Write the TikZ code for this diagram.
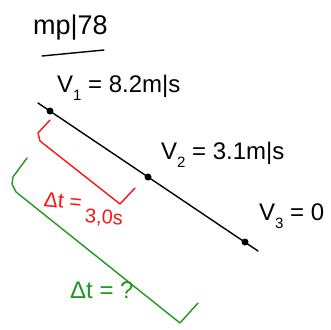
\documentclass[tikz,border=0pt]{standalone}
\usepackage{fontspec}
\setmainfont{Liberation Sans}
\definecolor{pengreen}{RGB}{34,150,30}
\definecolor{penred}{RGB}{250,20,20}
\newcommand{\lowidx}[1]{\raisebox{-0.35em}{\fontsize{15}{16}\selectfont #1}}
\tikzset{
  pen/.style={line width=1.4pt, line cap=round, line join=round},
  dotmark/.style={circle, fill=black, inner sep=0pt, minimum size=7pt},
  hand/.style={font=\fontsize{24}{26}\selectfont, inner sep=0pt},
}
\begin{document}
\begin{tikzpicture}[x=1pt,y=-1pt]
\useasboundingbox (0,0) rectangle (331,329);
% title
\node[hand, font=\fontsize{27}{29}\selectfont, anchor=west] (title) at (33,28) {mp|78};
\draw[pen] (42,56) -- (104,50);
% motion line
\coordinate (s) at (38,103);
\coordinate (e) at (258,251);
\draw[pen] (s) -- (e);
\node[dotmark] (p1) at (50,111) {};
\node[dotmark] (p2) at (148,177) {};
\node[dotmark] (p3) at (245,242) {};
% labels
\node[hand, anchor=west] (v1) at (57,88) {V\lowidx{1} = 8.2m|s};
\node[hand, anchor=west] (v2) at (161,155) {V\lowidx{2} = 3.1m|s};
\node[hand, anchor=west] (v3) at (259,216) {V\lowidx{3} = 0};
% red bracket
\draw[pen, penred] (50,120) -- (38,133) -- (40,141) -- (120,204) -- (135,188);
\node[hand, text=penred, font=\fontsize{21}{23}\selectfont, rotate=-6] (dt1) at (63,201) {Δt =};
\node[hand, text=penred, font=\fontsize{20}{22}\selectfont, rotate=-4] (t1) at (104,218) {3,0s};
% green bracket
\draw[pen, pengreen] (27,158) -- (13,177) -- (12,184) -- (16,192) -- (180,323) -- (198,303);
\node[hand, text=pengreen, anchor=west] (dt2) at (70,290) {Δt = ?};
\end{tikzpicture}
\end{document}
